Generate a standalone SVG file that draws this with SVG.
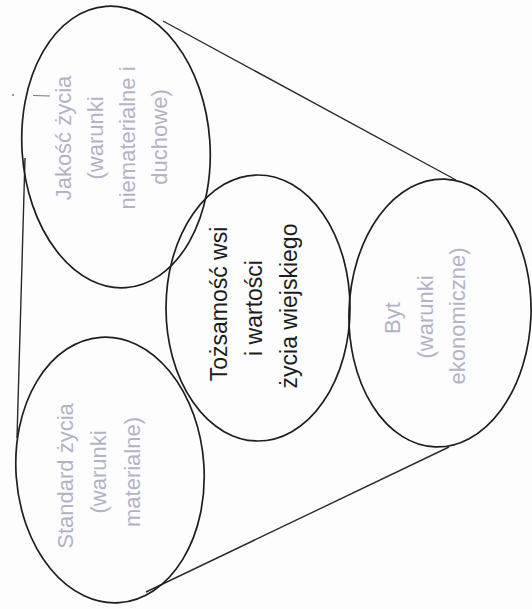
<svg xmlns="http://www.w3.org/2000/svg" width="532" height="609" viewBox="0 0 532 609">
<style>
.e{fill:none;stroke:#1e1e1e;stroke-width:1.7}
.c{stroke:#2a2a2a;stroke-width:1.4;fill:none}
.t{font-family:"Liberation Sans",Arial,sans-serif;font-size:22px;text-anchor:middle;fill:#b3b3c6}
.m{font-family:"Liberation Sans",Arial,sans-serif;font-size:23px;text-anchor:middle;fill:#1c1c1c}
</style>
<rect width="532" height="609" fill="#fdfdfd"/>
<g id="connectors">
<line class="c" x1="163" y1="21" x2="456" y2="180"/>
<line class="c" x1="146" y1="592" x2="449" y2="447"/>
<line class="c" x1="25" y1="158" x2="17" y2="438"/>
</g>
<g id="mark">
<circle cx="13" cy="95" r="1" fill="#777"/>
<line x1="33" y1="95.5" x2="50" y2="96" stroke="#777" stroke-width="1"/>
</g>
<g id="node-jakosc">
<ellipse class="e" cx="116" cy="147" rx="94" ry="141" transform="rotate(-4 116 147)"/>
<text class="t" transform="translate(71,138) rotate(-90)">Jakość życia</text>
<text class="t" transform="translate(103,138) rotate(-90)">(warunki</text>
<text class="t" transform="translate(135,138) rotate(-90)">niematerialne i</text>
<text class="t" transform="translate(167,137) rotate(-90)">duchowe)</text>
</g>
<g id="node-standard">
<ellipse class="e" cx="110" cy="470" rx="94" ry="133" transform="rotate(-4 110 470)"/>
<text class="t" transform="translate(73,476) rotate(-90)">Standard życia</text>
<text class="t" transform="translate(106,472) rotate(-90)">(warunki</text>
<text class="t" transform="translate(140,472) rotate(-90)">materialne)</text>
</g>
<g id="node-tozsamosc">
<ellipse class="e" cx="258" cy="308" rx="92" ry="133"/>
<text class="m" transform="translate(227,304) rotate(-90)">Tożsamość wsi</text>
<text class="m" transform="translate(262,308) rotate(-90)">i wartości</text>
<text class="m" transform="translate(297,306) rotate(-90)">życia wiejskiego</text>
</g>
<g id="node-byt">
<ellipse class="e" cx="440" cy="313" rx="91" ry="134" transform="rotate(2 440 313)"/>
<text class="t" transform="translate(400,318) rotate(-90)">Byt</text>
<text class="t" transform="translate(433,317) rotate(-90)">(warunki</text>
<text class="t" transform="translate(465,316) rotate(-90)">ekonomiczne)</text>
</g>
</svg>
